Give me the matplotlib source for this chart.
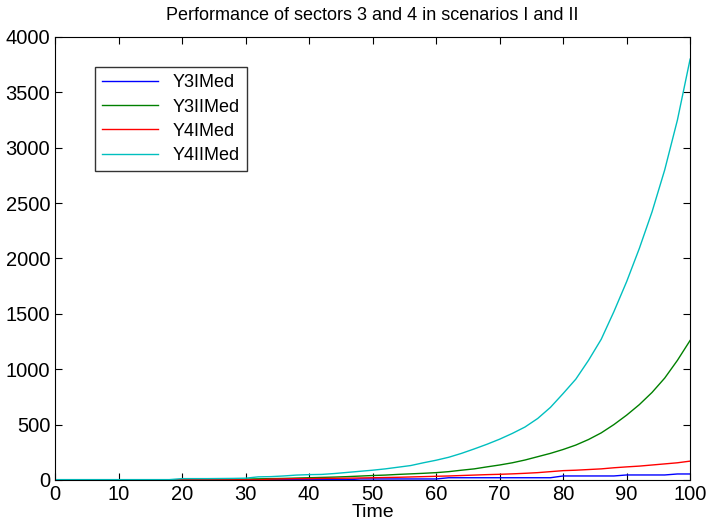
import matplotlib
matplotlib.use("Agg")
import matplotlib.pyplot as plt

# ------ Data ------
time = list(range(0, 101, 2))

y3_i = [2] * 24 + [9, 9, 9, 9, 9, 9, 9, 20, 20, 20, 20, 20, 20, 20, 20, 20,
                   36, 36, 36, 36, 36, 45, 45, 45, 45, 54, 54]
y3_ii = [1] * 15 + [8, 10, 12, 14, 17, 20, 23, 26, 30, 35, 40, 44, 50, 55, 60,
                    66, 75, 88, 100, 118, 135, 155, 180, 210, 240, 275, 315,
                    365, 425, 500, 585, 680, 790, 920, 1080, 1260]
y4_i = [1] * 17 + [8, 10, 12, 12, 14, 15, 16, 18, 20, 22, 24, 27, 30, 33, 36,
                   40, 44, 48, 51, 55, 60, 66, 75, 84, 88, 94, 100, 110, 118,
                   125, 135, 145, 155, 170]
y4_ii = [3] * 10 + [12, 12, 12, 13, 14, 16, 28, 30, 36, 44, 48, 50, 58, 68, 78,
                    88, 100, 115, 130, 155, 178, 205, 240, 280, 322, 368, 420,
                    478, 555, 655, 780, 910, 1080, 1270, 1520, 1790, 2090,
                    2420, 2800, 3250, 3800]

labels = ["Y3IMed", "Y3IIMed", "Y4IMed", "Y4IIMed"]
colors = ["#0000ff", "#008000", "#ff0000", "#00bfbf"]

# ------ Plot ------
plt.rcParams["font.family"] = ["Liberation Sans", "DejaVu Sans"]

fig = plt.figure(figsize=(7.1, 5.28), dpi=100)
ax = fig.add_axes([0.0775, 0.091, 0.8945, 0.839])

for ys, lab, c in zip([y3_i, y3_ii, y4_i, y4_ii], labels, colors):
    ax.plot(time, ys, color=c, lw=1.0, label=lab)

ax.set_xlim(0, 100)
ax.set_ylim(0, 4000)
ax.set_xticks(range(0, 101, 10))
ax.set_yticks(range(0, 4001, 500))
ax.tick_params(direction="in", top=True, right=True, labelsize=14.5, length=5)
ax.set_xlabel("Time", fontsize=14, labelpad=0)
ax.set_title("Performance of sectors 3 and 4 in scenarios I and II", fontsize=13, pad=12)

leg = ax.legend(loc="upper left", bbox_to_anchor=(0.063, 0.932), borderaxespad=0,
                fontsize=13, frameon=True, fancybox=False, handlelength=3.1,
                labelspacing=0.4, borderpad=0.4)
leg.get_frame().set_edgecolor("black")
leg.get_frame().set_linewidth(1.0)

fig.savefig("out.png", dpi=100)
